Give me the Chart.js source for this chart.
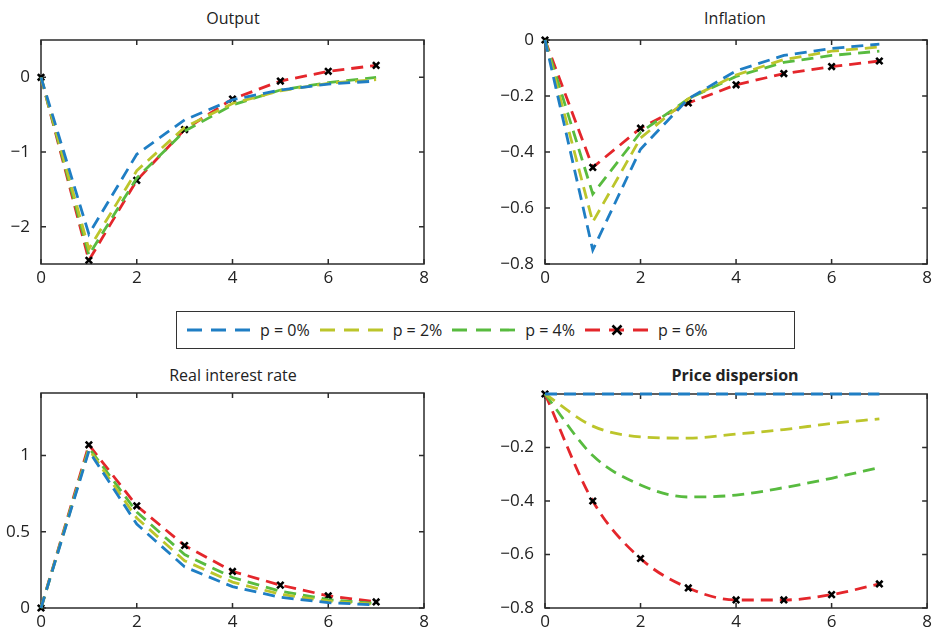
<!DOCTYPE html>
<html>
<head>
<meta charset="utf-8">
<script src="https://cdn.jsdelivr.net/npm/chart.js@4/dist/chart.umd.min.js"></script>
<style>
  body { margin: 0; background: #fff; font-family: 'Open Sans', sans-serif; }
  #page { position: relative; width: 936px; height: 638px; overflow: hidden; }
  .panel { position: absolute; }
  .title { position: absolute; width: 300px; text-align: center; font-size: 16px; color: #222; line-height: 20px; }
  #legend { position: absolute; left: 176px; top: 311px; width: 617px; height: 36px; border: 1.5px solid #333;
            display: flex; align-items: center; font-size: 16px; color: #222; }
  .item { display: flex; align-items: center; margin-left: 10px; }
  .item span { margin-left: 9px; margin-right: 0px; }
</style>
</head>
<body>
<div id="page">
  <div class="title" style="left:83px;top:8px">Output</div>
  <div class="title" style="left:585px;top:8px">Inflation</div>
  <div class="title" style="left:83px;top:365px">Real interest rate</div>
  <div class="title" style="left:585px;top:365px;font-weight:bold">Price dispersion</div>

  <div class="panel" style="left:0;top:0;width:440px;height:300px"><canvas id="output"></canvas></div>
  <div class="panel" style="left:488px;top:0;width:448px;height:300px"><canvas id="inflation"></canvas></div>
  <div class="panel" style="left:0;top:350px;width:440px;height:288px"><canvas id="realrate"></canvas></div>
  <div class="panel" style="left:488px;top:350px;width:448px;height:288px"><canvas id="dispersion"></canvas></div>

  <div id="legend"></div>
</div>
<script>
// periods after the shock
var steps = [0, 1, 2, 3, 4, 5, 6, 7];
var xTicks = [0, 2, 4, 6, 8];

var labels = ['p = 0%', 'p = 2%', 'p = 4%', 'p = 6%'];
var colors = ['#1f7ec4', '#bcc52b', '#58bb3f', '#e4262b'];

// Output
var output0 = [0, -2.10, -1.03, -0.57, -0.30, -0.17, -0.09, -0.05];
var output2 = [0, -2.30, -1.25, -0.67, -0.35, -0.18, -0.08, -0.03];
var output4 = [0, -2.38, -1.35, -0.72, -0.37, -0.17, -0.07, 0.00];
var output6 = [0, -2.45, -1.38, -0.70, -0.29, -0.05, 0.08, 0.16];
var outputTicks = [-2, -1, 0];

// Inflation
var infl0 = [0, -0.75, -0.39, -0.21, -0.11, -0.055, -0.03, -0.015];
var infl2 = [0, -0.65, -0.35, -0.21, -0.125, -0.07, -0.04, -0.025];
var infl4 = [0, -0.55, -0.33, -0.21, -0.13, -0.08, -0.055, -0.04];
var infl6 = [0, -0.455, -0.315, -0.225, -0.16, -0.12, -0.095, -0.075];
var inflTicks = [-0.8, -0.6, -0.4, -0.2, 0];

// Real interest rate
var rate0 = [0, 1.03, 0.55, 0.27, 0.14, 0.07, 0.035, 0.02];
var rate2 = [0, 1.04, 0.59, 0.31, 0.17, 0.09, 0.045, 0.025];
var rate4 = [0, 1.05, 0.63, 0.35, 0.20, 0.11, 0.055, 0.03];
var rate6 = [0, 1.07, 0.67, 0.41, 0.24, 0.15, 0.08, 0.04];
var rateTicks = [0, 0.5, 1];

// Price dispersion
var disp0 = [0, 0, 0, 0, 0, 0, 0, 0];
var disp2 = [0, -0.12, -0.16, -0.165, -0.15, -0.133, -0.11, -0.093];
var disp4 = [0, -0.23, -0.34, -0.385, -0.378, -0.35, -0.315, -0.275];
var disp6 = [0, -0.40, -0.615, -0.725, -0.77, -0.77, -0.75, -0.71];
var dispTicks = [-0.8, -0.6, -0.4, -0.2];

Chart.defaults.font.family = "'Open Sans', sans-serif";
Chart.defaults.font.size = 17;
Chart.defaults.color = '#222';

function fmt(v) {
    return String(v).replace('-', '\u2212');
}

// axis box with short inward ticks, like the original figure
var boxPlugin = {
    id: 'box',
    beforeDatasetsDraw: function(chart) {
        var ctx = chart.ctx, a = chart.chartArea, sx = chart.scales.x, sy = chart.scales.y;
        ctx.save();
        ctx.strokeStyle = '#2b2b2b';
        ctx.lineWidth = 1.5;
        ctx.strokeRect(a.left, a.top, a.right - a.left, a.bottom - a.top);
        ctx.beginPath();
        sx.ticks.forEach(function(t) {
            var px = sx.getPixelForValue(t.value);
            ctx.moveTo(px, a.bottom); ctx.lineTo(px, a.bottom - 5);
            ctx.moveTo(px, a.top); ctx.lineTo(px, a.top + 5);
        });
        sy.ticks.forEach(function(t) {
            var py = sy.getPixelForValue(t.value);
            ctx.moveTo(a.left, py); ctx.lineTo(a.left + 5, py);
            ctx.moveTo(a.right, py); ctx.lineTo(a.right - 5, py);
        });
        ctx.stroke();
        ctx.restore();
    }
};

function makeChart(id, series, yMin, yMax, yTicks, pad, yWidth, xHeight, smooth) {
    var datasets = series.map(function(vals, i) {
        var ds = {
            label: labels[i],
            data: steps.map(function(s, k) { return {x: s, y: vals[k]}; }),
            borderColor: colors[i],
            borderWidth: 2.8,
            borderDash: [12, 7],
            pointRadius: 0,
            clip: false,
            tension: 0
        };
        if (smooth) ds.cubicInterpolationMode = 'monotone';
        if (i == 3) {
            ds.pointRadius = 4.5;
            ds.pointStyle = 'crossRot';
            ds.pointBorderColor = '#000';
            ds.pointBorderWidth = 2.6;
        }
        return ds;
    });

    return new Chart(document.getElementById(id), {
        type: 'line',
        data: { datasets: datasets },
        plugins: [boxPlugin],
        options: {
            animation: false,
            responsive: true,
            maintainAspectRatio: false,
            devicePixelRatio: 1,
            layout: { padding: pad },
            plugins: { legend: { display: false }, tooltip: { enabled: false } },
            scales: {
                x: {
                    type: 'linear', min: 0, max: 8,
                    grid: { display: false, drawTicks: false },
                    border: { display: false },
                    afterBuildTicks: function(s) { s.ticks = xTicks.map(function(v) { return {value: v}; }); },
                    afterFit: function(s) { s.height = xHeight; },
                    ticks: { padding: 4, callback: fmt, maxRotation: 0 }
                },
                y: {
                    type: 'linear', min: yMin, max: yMax,
                    grid: { display: false, drawTicks: false },
                    border: { display: false },
                    afterBuildTicks: function(s) { s.ticks = yTicks.map(function(v) { return {value: v}; }); },
                    afterFit: function(s) { s.width = yWidth; },
                    ticks: { padding: 11, callback: fmt }
                }
            }
        }
    });
}

makeChart('output', [output0, output2, output4, output6], -2.5, 0.5, outputTicks,
    {top: 40, right: 16, bottom: 0, left: 0}, 41, 36, false);
makeChart('inflation', [infl0, infl2, infl4, infl6], -0.8, 0, inflTicks,
    {top: 40, right: 6, bottom: 0, left: 0}, 57, 36, false);
makeChart('realrate', [rate0, rate2, rate4, rate6], 0, 1.41, rateTicks,
    {top: 43, right: 16, bottom: 0, left: 0}, 41, 30, false);
makeChart('dispersion', [disp0, disp2, disp4, disp6], -0.8, 0, dispTicks,
    {top: 44, right: 6, bottom: 0, left: 0}, 57, 30, true);

// legend box
var legend = document.getElementById('legend');
labels.forEach(function(l, i) {
    var marker = i == 3
        ? '<path d="M27.5,1.5 L36.5,10.5 M36.5,1.5 L27.5,10.5" stroke="#000" stroke-width="2.6"/>'
        : '';
    legend.insertAdjacentHTML('beforeend',
        '<div class="item"><svg width="64" height="12">' +
        '<line x1="0" y1="6" x2="64" y2="6" stroke="' + colors[i] + '" stroke-width="2.8" stroke-dasharray="15 9"/>' +
        marker + '</svg><span>' + l + '</span></div>');
});
</script>
</body>
</html>
